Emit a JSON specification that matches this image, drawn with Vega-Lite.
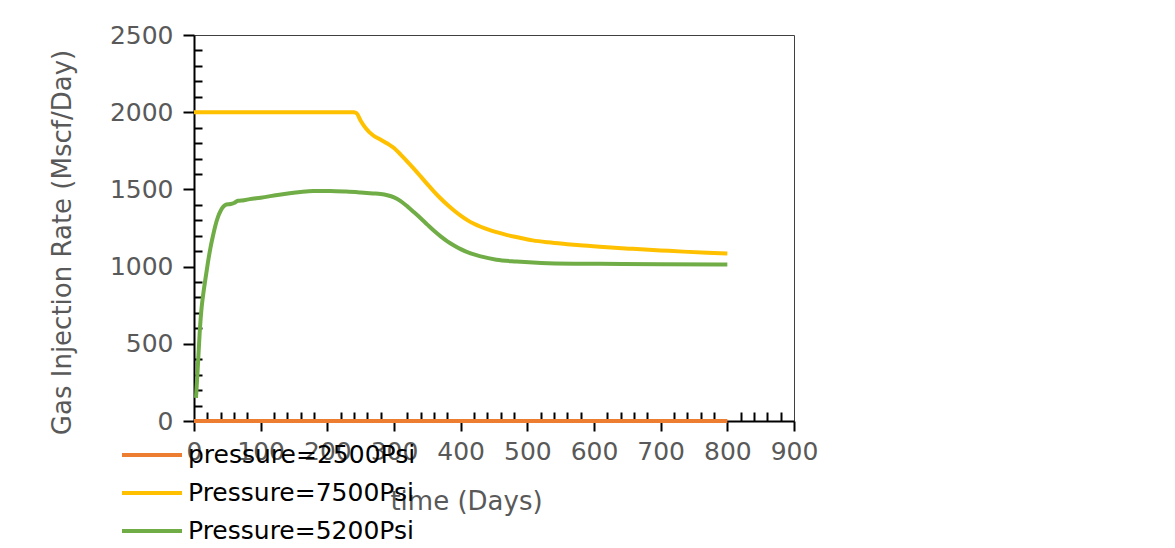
{
  "$schema": "https://vega.github.io/schema/vega-lite/v6.json",
  "width": 600,
  "height": 386,
  "autosize": {"type": "none"},
  "padding": {"left": 194, "top": 35, "right": 381, "bottom": 127},
  "background": "white",
  "config": {
    "view": {"stroke": "#404040", "strokeWidth": 1},
    "font": "DejaVu Sans"
  },
  "datasets": {
    "rates": [
      {"series": "pressure=2500Psi", "t": 0, "rate": 0},
      {"series": "pressure=2500Psi", "t": 200, "rate": 0},
      {"series": "pressure=2500Psi", "t": 400, "rate": 0},
      {"series": "pressure=2500Psi", "t": 600, "rate": 0},
      {"series": "pressure=2500Psi", "t": 800, "rate": 0},
      {"series": "Pressure=7500Psi", "t": 0, "rate": 2000},
      {"series": "Pressure=7500Psi", "t": 100, "rate": 2000},
      {"series": "Pressure=7500Psi", "t": 200, "rate": 2000},
      {"series": "Pressure=7500Psi", "t": 240, "rate": 2000},
      {"series": "Pressure=7500Psi", "t": 244, "rate": 1993},
      {"series": "Pressure=7500Psi", "t": 250, "rate": 1945},
      {"series": "Pressure=7500Psi", "t": 258, "rate": 1895},
      {"series": "Pressure=7500Psi", "t": 268, "rate": 1852},
      {"series": "Pressure=7500Psi", "t": 280, "rate": 1822},
      {"series": "Pressure=7500Psi", "t": 290, "rate": 1797},
      {"series": "Pressure=7500Psi", "t": 300, "rate": 1768},
      {"series": "Pressure=7500Psi", "t": 310, "rate": 1725},
      {"series": "Pressure=7500Psi", "t": 320, "rate": 1680},
      {"series": "Pressure=7500Psi", "t": 330, "rate": 1633},
      {"series": "Pressure=7500Psi", "t": 340, "rate": 1584},
      {"series": "Pressure=7500Psi", "t": 350, "rate": 1534},
      {"series": "Pressure=7500Psi", "t": 360, "rate": 1486},
      {"series": "Pressure=7500Psi", "t": 370, "rate": 1441},
      {"series": "Pressure=7500Psi", "t": 380, "rate": 1400},
      {"series": "Pressure=7500Psi", "t": 390, "rate": 1363},
      {"series": "Pressure=7500Psi", "t": 400, "rate": 1330},
      {"series": "Pressure=7500Psi", "t": 410, "rate": 1301},
      {"series": "Pressure=7500Psi", "t": 420, "rate": 1277},
      {"series": "Pressure=7500Psi", "t": 430, "rate": 1258},
      {"series": "Pressure=7500Psi", "t": 445, "rate": 1235},
      {"series": "Pressure=7500Psi", "t": 458, "rate": 1218},
      {"series": "Pressure=7500Psi", "t": 470, "rate": 1204},
      {"series": "Pressure=7500Psi", "t": 485, "rate": 1190},
      {"series": "Pressure=7500Psi", "t": 508, "rate": 1170},
      {"series": "Pressure=7500Psi", "t": 531, "rate": 1157},
      {"series": "Pressure=7500Psi", "t": 560, "rate": 1145},
      {"series": "Pressure=7500Psi", "t": 584, "rate": 1136},
      {"series": "Pressure=7500Psi", "t": 620, "rate": 1125},
      {"series": "Pressure=7500Psi", "t": 658, "rate": 1115},
      {"series": "Pressure=7500Psi", "t": 700, "rate": 1105},
      {"series": "Pressure=7500Psi", "t": 734, "rate": 1097},
      {"series": "Pressure=7500Psi", "t": 770, "rate": 1090},
      {"series": "Pressure=7500Psi", "t": 800, "rate": 1085},
      {"series": "Pressure=5200Psi", "t": 3, "rate": 150},
      {"series": "Pressure=5200Psi", "t": 6, "rate": 371},
      {"series": "Pressure=5200Psi", "t": 8.5, "rate": 570},
      {"series": "Pressure=5200Psi", "t": 11, "rate": 716},
      {"series": "Pressure=5200Psi", "t": 13.5, "rate": 810},
      {"series": "Pressure=5200Psi", "t": 17.5, "rate": 930},
      {"series": "Pressure=5200Psi", "t": 21, "rate": 1030},
      {"series": "Pressure=5200Psi", "t": 24.6, "rate": 1120},
      {"series": "Pressure=5200Psi", "t": 28.5, "rate": 1200},
      {"series": "Pressure=5200Psi", "t": 32, "rate": 1265},
      {"series": "Pressure=5200Psi", "t": 36, "rate": 1322},
      {"series": "Pressure=5200Psi", "t": 40, "rate": 1362},
      {"series": "Pressure=5200Psi", "t": 44, "rate": 1388},
      {"series": "Pressure=5200Psi", "t": 48.6, "rate": 1402},
      {"series": "Pressure=5200Psi", "t": 55, "rate": 1405},
      {"series": "Pressure=5200Psi", "t": 60, "rate": 1412},
      {"series": "Pressure=5200Psi", "t": 66, "rate": 1426},
      {"series": "Pressure=5200Psi", "t": 75, "rate": 1430},
      {"series": "Pressure=5200Psi", "t": 83.5, "rate": 1437},
      {"series": "Pressure=5200Psi", "t": 100, "rate": 1446},
      {"series": "Pressure=5200Psi", "t": 128, "rate": 1466},
      {"series": "Pressure=5200Psi", "t": 143.5, "rate": 1475},
      {"series": "Pressure=5200Psi", "t": 160, "rate": 1483},
      {"series": "Pressure=5200Psi", "t": 178.5, "rate": 1489},
      {"series": "Pressure=5200Psi", "t": 204, "rate": 1490},
      {"series": "Pressure=5200Psi", "t": 228.6, "rate": 1486},
      {"series": "Pressure=5200Psi", "t": 250, "rate": 1480},
      {"series": "Pressure=5200Psi", "t": 268.5, "rate": 1474},
      {"series": "Pressure=5200Psi", "t": 280, "rate": 1470},
      {"series": "Pressure=5200Psi", "t": 290, "rate": 1462},
      {"series": "Pressure=5200Psi", "t": 300, "rate": 1448},
      {"series": "Pressure=5200Psi", "t": 310, "rate": 1424},
      {"series": "Pressure=5200Psi", "t": 320, "rate": 1390},
      {"series": "Pressure=5200Psi", "t": 330, "rate": 1352},
      {"series": "Pressure=5200Psi", "t": 340, "rate": 1313},
      {"series": "Pressure=5200Psi", "t": 350, "rate": 1272},
      {"series": "Pressure=5200Psi", "t": 360, "rate": 1232},
      {"series": "Pressure=5200Psi", "t": 370, "rate": 1196},
      {"series": "Pressure=5200Psi", "t": 380, "rate": 1164},
      {"series": "Pressure=5200Psi", "t": 390, "rate": 1137},
      {"series": "Pressure=5200Psi", "t": 400, "rate": 1113},
      {"series": "Pressure=5200Psi", "t": 415, "rate": 1085},
      {"series": "Pressure=5200Psi", "t": 430, "rate": 1066},
      {"series": "Pressure=5200Psi", "t": 453.6, "rate": 1045},
      {"series": "Pressure=5200Psi", "t": 483.6, "rate": 1033},
      {"series": "Pressure=5200Psi", "t": 508.5, "rate": 1026},
      {"series": "Pressure=5200Psi", "t": 531, "rate": 1022},
      {"series": "Pressure=5200Psi", "t": 608.5, "rate": 1018},
      {"series": "Pressure=5200Psi", "t": 700, "rate": 1015},
      {"series": "Pressure=5200Psi", "t": 800, "rate": 1013}
    ]
  },
  "data": {"name": "rates"},
  "layer": [
    {
      "mark": {"type": "point", "opacity": 0},
      "encoding": {
        "x": {
          "field": "t", "type": "quantitative",
          "scale": {"domain": [0, 900], "nice": false, "zero": false},
          "axis": {
            "orient": "bottom",
            "values": [20, 40, 60, 80, 120, 140, 160, 180, 220, 240, 260, 280, 320, 340, 360, 380, 420, 440, 460, 480, 520, 540, 560, 580, 620, 640, 660, 680, 720, 740, 760, 780, 820, 840, 860, 880],
            "tickSize": -9, "tickWidth": 2, "tickColor": "black",
            "labels": false, "domain": false, "grid": false, "title": null
          }
        },
        "y": {
          "field": "rate", "type": "quantitative",
          "scale": {"domain": [0, 2500], "nice": false},
          "axis": {
            "orient": "left",
            "values": [100, 200, 300, 400, 600, 700, 800, 900, 1100, 1200, 1300, 1400, 1600, 1700, 1800, 1900, 2100, 2200, 2300, 2400],
            "tickSize": -8, "tickWidth": 2, "tickColor": "black",
            "labels": false, "domain": false, "grid": false, "title": null
          }
        }
      }
    },
    {
      "mark": {"type": "line", "strokeWidth": 4, "interpolate": "monotone"},
      "encoding": {
        "x": {
          "field": "t", "type": "quantitative",
          "axis": {
            "orient": "bottom",
            "values": [0, 100, 200, 300, 400, 500, 600, 700, 800, 900],
            "format": "d",
            "labelOverlap": false, "labelFlush": false, "labelBound": false,
            "tickSize": 10, "tickWidth": 2, "tickColor": "black",
            "domainColor": "black", "domainWidth": 2,
            "labelFontSize": 25, "labelColor": "#595959", "labelPadding": 8,
            "grid": false,
            "title": "time (Days)", "titleFontSize": 26, "titleColor": "#595959",
            "titleFontWeight": "normal", "titleX": 272, "titleY": 88,
            "titleAlign": "center", "titleBaseline": "alphabetic"
          }
        },
        "y": {
          "field": "rate", "type": "quantitative",
          "axis": {
            "orient": "left",
            "values": [0, 500, 1000, 1500, 2000, 2500],
            "format": "d",
            "labelOverlap": false, "labelFlush": false, "labelBound": false,
            "tickSize": 11, "tickWidth": 2, "tickColor": "black",
            "domainColor": "black", "domainWidth": 2,
            "labelFontSize": 25, "labelColor": "#595959", "labelPadding": 10,
            "grid": false,
            "title": "Gas Injection Rate (Mscf/Day)", "titleFontSize": 26,
            "titleColor": "#595959", "titleFontWeight": "normal", "titlePadding": 34,
            "titleY": 207
          }
        },
        "color": {
          "field": "series", "type": "nominal",
          "scale": {
            "domain": ["pressure=2500Psi", "Pressure=7500Psi", "Pressure=5200Psi"],
            "range": ["#ED7D31", "#FFC000", "#70AD47"]
          },
          "legend": {
            "orient": "none", "legendX": -74, "legendY": 405,
            "title": null,
            "symbolType": "stroke", "symbolSize": 3600, "symbolStrokeWidth": 4,
            "labelFontSize": 25, "labelColor": "black", "labelOffset": 4,
            "labelLimit": 0,
            "clipHeight": 30, "rowPadding": 8, "padding": 0
          }
        }
      }
    }
  ],
  "resolve": {"axis": {"x": "independent", "y": "independent"}}
}
